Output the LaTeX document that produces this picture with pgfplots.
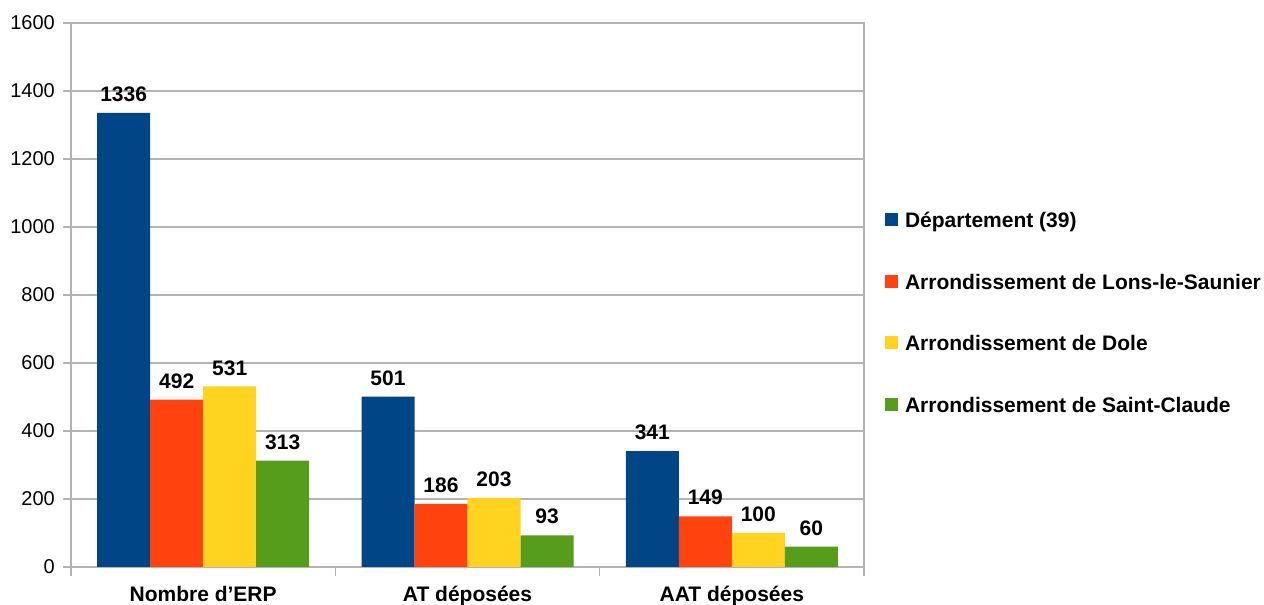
\documentclass[border=0pt]{standalone}
\usepackage{pgfplots}
\pgfplotsset{compat=1.18}
\usepackage{fontspec}
\setmainfont{Liberation Sans}
\definecolor{cblue}{HTML}{004586}
\definecolor{corange}{HTML}{FF420E}
\definecolor{cyellow}{HTML}{FFD320}
\definecolor{cgreen}{HTML}{579D1C}
\definecolor{cgrid}{HTML}{B3B3B3}
\begin{document}
\begin{tikzpicture}
\useasboundingbox (0,0) rectangle (1264bp,605bp);
\begin{axis}[
  at={(71bp,38bp)}, anchor=south west,
  scale only axis, width=793bp, height=544bp,
  xmin=-0.5, xmax=2.5, ymin=0, ymax=1600,
  ybar=0pt, bar width=53bp,
  xtick={0,1,2},
  xticklabels={Nombre d’ERP, AT déposées, AAT déposées},
  minor xtick={-0.5,0.5,1.5,2.5},
  ytick={0,200,...,1600},
  ymajorgrids,
  grid style={color=cgrid, line width=1.2bp},
  axis line style={color=cgrid, line width=1.2bp},
  tick style={color=cgrid, line width=1.2bp},
  major x tick style={draw=none},
  tick align=outside,
  major tick length=8bp, minor tick length=9bp,
  xtick pos=bottom, ytick pos=left,
  /pgf/number format/1000 sep={},
  /pgf/number format/assume math mode=true,
  yticklabel style={font=\fontsize{20bp}{20bp}\selectfont, anchor=east, inner sep=0pt, xshift=-8bp},
  xticklabel style={font=\bfseries\fontsize{21bp}{21bp}\selectfont, anchor=base, inner sep=0pt, yshift=-26bp},
  nodes near coords,
  every node near coord/.append style={font=\bfseries\fontsize{21bp}{21bp}\selectfont, text=black, anchor=south, inner sep=0pt, yshift=11bp},
  legend style={at={(1.0265,0.6526)}, anchor=north west, draw=none, fill=none,
    inner sep=0pt, outer sep=0pt,
    font=\bfseries\fontsize{21bp}{21bp}\selectfont,
    row sep=40.5bp, column sep=7bp,
    nodes={inner sep=0pt, text height=16bp, text depth=5bp}},
  legend cell align=left,
  legend image code/.code={\fill[#1] (0bp,-4bp) rectangle (13bp,9bp);},
]
\addplot[fill=cblue, draw=none] coordinates {(0,1336) (1,501) (2,341)};
\addplot[fill=corange, draw=none] coordinates {(0,492) (1,186) (2,149)};
\addplot[fill=cyellow, draw=none] coordinates {(0,531) (1,203) (2,100)};
\addplot[fill=cgreen, draw=none] coordinates {(0,313) (1,93) (2,60)};
\legend{Département (39), Arrondissement de Lons-le-Saunier, Arrondissement de Dole, Arrondissement de Saint-Claude}
\end{axis}
\end{tikzpicture}
\end{document}
